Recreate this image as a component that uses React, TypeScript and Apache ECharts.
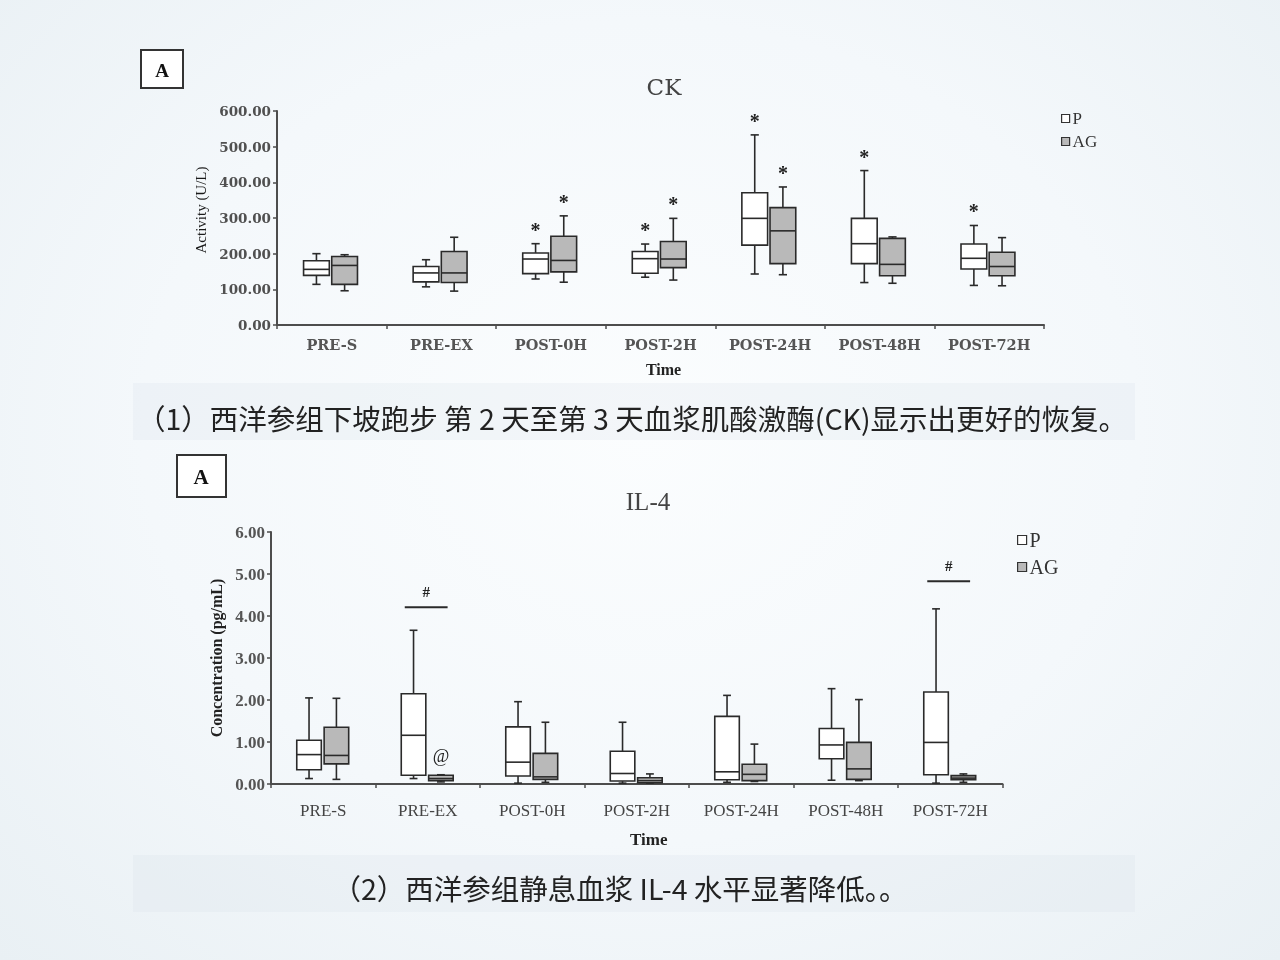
import { useEffect, useRef } from "react";
import * as echarts from "echarts";

const times = ["PRE-S", "PRE-EX", "POST-0H", "POST-2H", "POST-24H", "POST-48H", "POST-72H"];

// each row: [min, Q1, median, Q3, max]
const ckP = [
  [114, 139, 156, 180, 200],
  [107, 121, 146, 164, 183],
  [129, 144, 185, 202, 228],
  [134, 145, 186, 206, 227],
  [143, 224, 299, 371, 533],
  [119, 172, 228, 299, 433],
  [111, 157, 187, 227, 279],
];
const ckAG = [
  [96, 114, 167, 192, 197],
  [95, 119, 146, 206, 246],
  [120, 149, 181, 249, 306],
  [126, 161, 185, 234, 299],
  [141, 172, 264, 329, 387],
  [117, 138, 170, 243, 247],
  [110, 138, 164, 204, 245],
];
const ckMarkP = ["", "", "*", "*", "*", "*", "*"];
const ckMarkAG = ["", "", "*", "*", "*", "", ""];

const il4P = [
  [0.13, 0.34, 0.7, 1.04, 2.05],
  [0.13, 0.21, 1.16, 2.15, 3.66],
  [0.02, 0.19, 0.52, 1.36, 1.96],
  [0.02, 0.07, 0.25, 0.78, 1.47],
  [0.04, 0.1, 0.29, 1.61, 2.11],
  [0.09, 0.6, 0.93, 1.32, 2.27],
  [0.02, 0.22, 0.99, 2.19, 4.17],
];
const il4AG = [
  [0.11, 0.48, 0.68, 1.35, 2.04],
  [0.05, 0.08, 0.13, 0.21, 0.22],
  [0.04, 0.11, 0.17, 0.73, 1.47],
  [0.02, 0.03, 0.08, 0.15, 0.24],
  [0.06, 0.08, 0.23, 0.47, 0.95],
  [0.08, 0.11, 0.36, 0.99, 2.01],
  [0.04, 0.1, 0.14, 0.2, 0.24],
];
const il4MarkP = ["", "", "", "", "", "", ""];
const il4MarkAG = ["", "@", "", "", "", "", ""];
// [category index, level of the bar]
const il4Hash = [
  [1, 4.21],
  [6, 4.83],
];

const ckTicks = [0, 100, 200, 300, 400, 500, 600];
const il4Ticks = [0, 1, 2, 3, 4, 5, 6];

const SERIF_W = "DejaVu Serif";
const SERIF = "Liberation Serif";
const CJK = "Noto Sans CJK SC";
const P_FILL = "#ffffff";
const AG_FILL = "#b9b9b9";
const INK = "#2a2a2a";
const BOX_W = 0.235;
const CAP_W = 0.075;

function boxRenderer(offset: number, fill: string, marks: string[], markFont: string, markGap: number) {
  return (params: any, api: any) => {
    const c = api.value(0);
    const [lo, q1, med, q3, hi] = [1, 2, 3, 4, 5].map((i) => api.coord([c, api.value(i)])[1]);
    const band = api.size([1, 0])[0];
    const x = api.coord([c, 0])[0] + offset * band;
    const w = BOX_W * band;
    const cap = CAP_W * band;
    const stroke = { stroke: INK, lineWidth: 1.6 };
    const children: any[] = [
      { type: "line", shape: { x1: x, y1: hi, x2: x, y2: q3 }, style: stroke },
      { type: "line", shape: { x1: x, y1: q1, x2: x, y2: lo }, style: stroke },
      { type: "line", shape: { x1: x - cap / 2, y1: hi, x2: x + cap / 2, y2: hi }, style: stroke },
      { type: "line", shape: { x1: x - cap / 2, y1: lo, x2: x + cap / 2, y2: lo }, style: stroke },
      { type: "rect", shape: { x: x - w / 2, y: q3, width: w, height: Math.max(q1 - q3, 1) }, style: { fill, ...stroke } },
      { type: "line", shape: { x1: x - w / 2, y1: med, x2: x + w / 2, y2: med }, style: stroke },
    ];
    const mark = marks[c];
    if (mark) {
      children.push({
        type: "text",
        x,
        y: hi - markGap,
        style: { text: mark, font: markFont, fill: "#222", align: "center", verticalAlign: "middle" },
      });
    }
    return { type: "group", children };
  };
}

function hashRenderer(params: any, api: any) {
  const c = api.value(0);
  const [cx, y] = api.coord([c, api.value(1)]);
  const band = api.size([1, 0])[0];
  return {
    type: "group",
    children: [
      { type: "line", shape: { x1: cx - 0.22 * band, y1: y, x2: cx + 0.19 * band, y2: y }, style: { stroke: INK, lineWidth: 2 } },
      {
        type: "text",
        x: cx - 0.015 * band,
        y: y - 15,
        style: { text: "#", font: `bold 15px "${SERIF}"`, fill: "#222", align: "center", verticalAlign: "middle" },
      },
    ],
  };
}

const toRows = (rows: number[][]) => rows.map((r, i) => [i, ...r]);

function buildOption(): echarts.EChartsOption {
  const axisLine = { lineStyle: { color: "#4d4d4d", width: 2 } };
  return {
    animation: false,
    backgroundColor: "transparent",
    grid: [
      { left: 277, top: 111, width: 767, height: 214 },
      { left: 271, top: 532, width: 731.5, height: 252 },
    ],
    xAxis: [
      {
        type: "category",
        gridIndex: 0,
        data: times,
        axisLine,
        axisTick: { show: true, length: 4, lineStyle: { color: "#4d4d4d", width: 1.5 } },
        axisLabel: { interval: 0, fontFamily: SERIF_W, fontWeight: "bold", fontSize: 14.5, color: "#555", margin: 12 },
        name: "Time",
        nameLocation: "middle",
        nameGap: 36,
        nameTextStyle: { fontFamily: SERIF, fontWeight: "bold", fontSize: 16, color: "#222", padding: [0, 0, 0, 6] },
      },
      {
        type: "category",
        gridIndex: 1,
        data: times,
        axisLine,
        axisTick: { show: true, length: 4, lineStyle: { color: "#4d4d4d", width: 1.5 } },
        axisLabel: { interval: 0, fontFamily: SERIF, fontSize: 17, color: "#444", margin: 18 },
        name: "Time",
        nameLocation: "middle",
        nameGap: 47,
        nameTextStyle: { fontFamily: SERIF, fontWeight: "bold", fontSize: 17, color: "#222", padding: [0, 0, 0, 24] },
      },
    ],
    yAxis: [
      {
        type: "value",
        gridIndex: 0,
        min: ckTicks[0],
        max: ckTicks[ckTicks.length - 1],
        interval: ckTicks[1] - ckTicks[0],
        axisLine: { show: true, ...axisLine },
        axisTick: { show: true, length: 4, lineStyle: { color: "#4d4d4d", width: 1.5 } },
        splitLine: { show: false },
        axisLabel: { fontFamily: SERIF_W, fontWeight: "bold", fontSize: 13.5, color: "#505050", margin: 6, formatter: (v: number) => v.toFixed(2) },
        name: "Activity (U/L)",
        nameLocation: "middle",
        nameGap: 66,
        nameRotate: 90,
        nameTextStyle: { fontFamily: SERIF, fontSize: 15, color: "#1a1a1a", padding: [0, 0, 0, 16] },
      },
      {
        type: "value",
        gridIndex: 1,
        min: il4Ticks[0],
        max: il4Ticks[il4Ticks.length - 1],
        interval: il4Ticks[1] - il4Ticks[0],
        axisLine: { show: true, ...axisLine },
        axisTick: { show: true, length: 4, lineStyle: { color: "#4d4d4d", width: 1.5 } },
        splitLine: { show: false },
        axisLabel: { fontFamily: SERIF, fontWeight: "bold", fontSize: 17, color: "#555", margin: 6, formatter: (v: number) => v.toFixed(2) },
        name: "Concentration (pg/mL)",
        nameLocation: "middle",
        nameGap: 44,
        nameRotate: 90,
        nameTextStyle: { fontFamily: SERIF, fontWeight: "bold", fontSize: 16, color: "#222" },
      },
    ],
    legend: [
      {
        orient: "vertical",
        left: 1056,
        top: 105,
        itemWidth: 8,
        itemHeight: 8,
        itemGap: 6,
        selectedMode: false,
        icon: "rect",
        textStyle: { fontFamily: SERIF, fontSize: 17, color: "#333", padding: [0, 0, 0, -2] },
        data: [
          { name: "P", itemStyle: { color: P_FILL, borderColor: "#333", borderWidth: 1.2 } },
          { name: "AG", itemStyle: { color: AG_FILL, borderColor: "#333", borderWidth: 1.2 } },
        ],
      },
      {
        orient: "vertical",
        left: 1012,
        top: 525,
        itemWidth: 9,
        itemHeight: 9,
        itemGap: 7,
        selectedMode: false,
        icon: "rect",
        textStyle: { fontFamily: SERIF, fontSize: 20, color: "#333", padding: [0, 0, 0, -2] },
        data: [
          { name: "P", itemStyle: { color: P_FILL, borderColor: "#333", borderWidth: 1.2 } },
          { name: "AG", itemStyle: { color: AG_FILL, borderColor: "#333", borderWidth: 1.2 } },
        ],
      },
    ],
    series: [
      {
        name: "P",
        type: "custom",
        xAxisIndex: 0,
        yAxisIndex: 0,
        encode: { x: 0, y: [1, 2, 3, 4, 5] },
        itemStyle: { color: P_FILL },
        renderItem: boxRenderer(-0.14, P_FILL, ckMarkP, `bold 20px "${SERIF}"`, 14) as any,
        data: toRows(ckP),
      },
      {
        name: "AG",
        type: "custom",
        xAxisIndex: 0,
        yAxisIndex: 0,
        encode: { x: 0, y: [1, 2, 3, 4, 5] },
        itemStyle: { color: AG_FILL },
        renderItem: boxRenderer(0.117, AG_FILL, ckMarkAG, `bold 20px "${SERIF}"`, 14) as any,
        data: toRows(ckAG),
      },
      {
        name: "P",
        type: "custom",
        xAxisIndex: 1,
        yAxisIndex: 1,
        encode: { x: 0, y: [1, 2, 3, 4, 5] },
        itemStyle: { color: P_FILL },
        renderItem: boxRenderer(-0.136, P_FILL, il4MarkP, `17px "${SERIF}"`, 19) as any,
        data: toRows(il4P),
      },
      {
        name: "AG",
        type: "custom",
        xAxisIndex: 1,
        yAxisIndex: 1,
        encode: { x: 0, y: [1, 2, 3, 4, 5] },
        itemStyle: { color: AG_FILL },
        renderItem: boxRenderer(0.126, AG_FILL, il4MarkAG, `18px "${SERIF}"`, 19) as any,
        data: toRows(il4AG),
      },
      {
        type: "custom",
        xAxisIndex: 1,
        yAxisIndex: 1,
        encode: { x: 0, y: 1 },
        renderItem: hashRenderer as any,
        data: il4Hash,
      },
    ],
    graphic: [
      { type: "rect", shape: { x: 133, y: 383, width: 1002, height: 57 }, style: { fill: "rgba(215,224,230,0.22)" }, z: -1 },
      { type: "rect", shape: { x: 133, y: 855, width: 1002, height: 57 }, style: { fill: "rgba(215,224,230,0.22)" }, z: -1 },
      { type: "rect", shape: { x: 141, y: 50, width: 42, height: 38 }, style: { fill: "#fff", stroke: "#333", lineWidth: 2 } },
      { type: "text", x: 162, y: 70, style: { text: "A", font: `bold 19px "${SERIF}"`, fill: "#111", align: "center", verticalAlign: "middle" } },
      { type: "rect", shape: { x: 177, y: 455, width: 49, height: 42 }, style: { fill: "#fff", stroke: "#333", lineWidth: 2 } },
      { type: "text", x: 201, y: 477, style: { text: "A", font: `bold 21px "${SERIF}"`, fill: "#111", align: "center", verticalAlign: "middle" } },
      { type: "text", x: 664, y: 87, style: { text: "CK", font: `23px "${SERIF_W}"`, fill: "#444", align: "center", verticalAlign: "middle" } },
      { type: "text", x: 648, y: 501, style: { text: "IL-4", font: `25px "${SERIF}"`, fill: "#444", align: "center", verticalAlign: "middle" } },
      {
        type: "text",
        x: 632,
        y: 417,
        style: { text: "（1）西洋参组下坡跑步 第 2 天至第 3 天血浆肌酸激酶(CK)显示出更好的恢复。", font: `28.5px "${CJK}"`, fill: "#222", align: "center", verticalAlign: "middle" },
      },
      {
        type: "text",
        x: 620,
        y: 887,
        style: { text: "（2）西洋参组静息血浆 IL-4 水平显著降低。。", font: `28.5px "${CJK}"`, fill: "#222", align: "center", verticalAlign: "middle" },
      },
    ],
  };
}

export default function App() {
  const el = useRef<HTMLDivElement>(null);

  useEffect(() => {
    if (!el.current) return;
    const chart = echarts.init(el.current, undefined, { renderer: "svg" });
    chart.setOption(buildOption());
    return () => chart.dispose();
  }, []);

  return (
    <div
      style={{
        position: "fixed",
        left: 0,
        top: 0,
        width: 1280,
        height: 960,
        background: "radial-gradient(ellipse at 50% 45%, #fbfdfe 0%, #f4f8fb 55%, #e9f0f4 100%)",
      }}
    >
      <div ref={el} style={{ width: 1280, height: 960 }} />
    </div>
  );
}
